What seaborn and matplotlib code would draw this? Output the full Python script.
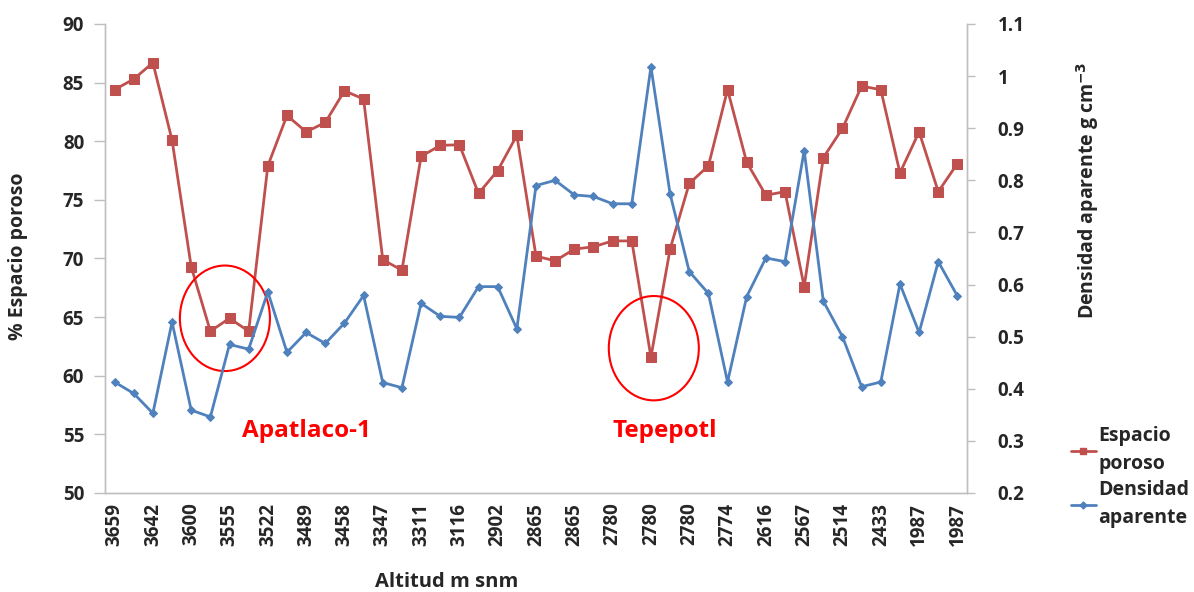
import numpy as np
import pandas as pd
import seaborn as sns
import matplotlib
matplotlib.use("Agg")
import matplotlib.pyplot as plt
from matplotlib.patches import Ellipse
from matplotlib.lines import Line2D

# ---- data ----
tick_labels = ["3659", "3642", "3600", "3555", "3522", "3489", "3458", "3347",
               "3311", "3116", "2902", "2865", "2865", "2780", "2780", "2780",
               "2774", "2616", "2567", "2514", "2433", "1987", "1987"]

espacio_poroso = [84.4, 85.3, 86.7, 80.1, 69.3, 63.8, 64.9, 63.8, 77.9, 82.2,
                  80.8, 81.6, 84.3, 83.6, 69.9, 69.0, 78.7, 79.65, 79.7, 75.55,
                  77.5, 80.5, 70.2, 69.8, 70.8, 71.0, 71.5, 71.5, 61.6, 70.8,
                  76.4, 77.9, 84.4, 78.2, 75.4, 75.7, 67.6, 78.6, 81.1, 84.7,
                  84.4, 77.3, 80.8, 75.7, 78.1]

densidad_aparente = [0.413, 0.391, 0.353, 0.528, 0.359, 0.346, 0.485, 0.476, 0.586, 0.470,
                     0.508, 0.487, 0.526, 0.579, 0.412, 0.402, 0.564, 0.539, 0.537, 0.596,
                     0.596, 0.515, 0.790, 0.800, 0.772, 0.769, 0.755, 0.755, 1.018, 0.774,
                     0.625, 0.583, 0.413, 0.577, 0.651, 0.644, 0.857, 0.568, 0.500, 0.404,
                     0.413, 0.601, 0.508, 0.644, 0.578]

idx = np.arange(len(espacio_poroso))
df = pd.DataFrame({"muestra": idx, "espacio": espacio_poroso, "densidad": densidad_aparente})

RED = "#C0504D"
BLUE = "#4F81BD"
GRAY = "#BFBFBF"

sns.set_style("white")
plt.rcParams["font.family"] = ["Open Sans", "DejaVu Sans"]
plt.rcParams["font.weight"] = "bold"
plt.rcParams["mathtext.default"] = "bf"

FS = 13.5
LFS = 14

W, H = 1194, 592
fig = plt.figure(figsize=(W / 100, H / 100), dpi=100)
ax = fig.add_axes([105 / W, (H - 493) / H, 862 / W, 469 / H])
ax2 = ax.twinx()

sns.lineplot(data=df, x="muestra", y="espacio", ax=ax, color=RED, linewidth=2,
             marker="s", markersize=6.5, markeredgecolor=RED, zorder=3)
sns.lineplot(data=df, x="muestra", y="densidad", ax=ax2, color=BLUE, linewidth=2,
             marker="D", markersize=4.5, markeredgecolor=BLUE, zorder=3)

ax.set_xlim(-0.5, len(idx) - 0.5)
ax.set_ylim(50, 90)
ax2.set_ylim(0.2, 1.1)

ax.set_yticks(np.arange(50, 91, 5))
rt = np.round(np.arange(0.2, 1.11, 0.1), 1)
ax2.set_yticks(rt)
ax2.set_yticklabels([f"{v:g}" for v in rt])

ax.set_xticks(idx[::2])
ax.set_xticklabels(tick_labels, rotation=90)
ax.set_xticks(np.arange(-0.5, len(idx), 1.0), minor=True)
ax.tick_params(axis="x", which="major", length=0, pad=7, labelsize=FS)
ax.tick_params(axis="x", which="minor", length=6, color=GRAY, width=1)
ax.tick_params(axis="y", length=8, color=GRAY, width=1, labelsize=FS, pad=7)
ax2.tick_params(axis="y", length=6, color=GRAY, width=1, labelsize=FS, pad=16)

for a in (ax, ax2):
    for s in a.spines.values():
        s.set_color(GRAY)
        s.set_linewidth(1)
    a.spines["top"].set_visible(False)
    a.set_xlabel("")
    a.set_ylabel("")
    for lab in a.get_xticklabels() + a.get_yticklabels():
        lab.set_fontweight("bold")

ax.grid(False)
ax2.grid(False)

# annotations
ax.add_patch(Ellipse((5.76, 64.9), 4.7, 9.0, fill=False, edgecolor="red", linewidth=1.5, zorder=4))
ax.add_patch(Ellipse((28.15, 62.35), 4.7, 8.9, fill=False, edgecolor="red", linewidth=1.5, zorder=4))
ax.text(10.0, 55.3, "Apatlaco-1", color="red", fontsize=17.5, fontweight="bold", ha="center", va="center")
ax.text(28.7, 55.3, "Tepepotl", color="red", fontsize=17.5, fontweight="bold", ha="center", va="center")

# axis titles
fig.text(18 / W, 1 - 256 / H, "% Espacio poroso", rotation=90, ha="center", va="center",
         fontsize=LFS, fontweight="bold")
fig.text(1088 / W, 1 - 190 / H, "Densidad aparente g cm$^{\\mathbf{-3}}$", rotation=90,
         ha="center", va="center", fontsize=LFS, fontweight="bold")
fig.text(447 / W, 1 - 582 / H, "Altitud m snm", ha="center", va="center",
         fontsize=LFS + 0.5, fontweight="bold")

# legend
handles = [Line2D([], [], color=RED, linewidth=2, marker="s", markersize=5),
           Line2D([], [], color=BLUE, linewidth=2, marker="D", markersize=3.5)]
leg = fig.legend(handles, ["Espacio\nporoso", "Densidad\naparente"], loc="upper left",
                 bbox_to_anchor=(1063 / W, 1 - 418 / H), frameon=False,
                 prop={"size": 14, "weight": "bold"}, handlelength=1.3,
                 handletextpad=0.1, labelspacing=0.3, borderaxespad=0)
for t in leg.get_texts():
    t.set_linespacing(1.55)

fig.savefig("out.png", dpi=100)
